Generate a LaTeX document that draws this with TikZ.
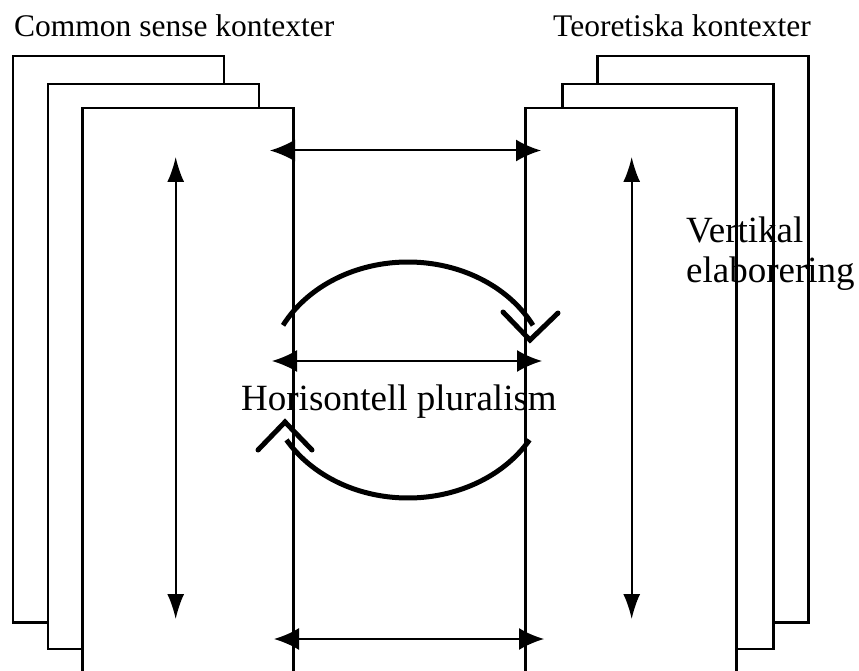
\documentclass[tikz,border=0pt]{standalone}
\usepackage{fontspec}
\setmainfont{Liberation Serif}
\usetikzlibrary{arrows.meta}
\tikzset{
  page/.style={draw=black, fill=white, line width=2.5pt, rectangle, inner sep=0pt, anchor=north west},
  harrow/.style={line width=2pt, {Latex[length=25pt,width=22pt]}-{Latex[length=25pt,width=22pt]}},
  varrow/.style={line width=2pt, {Latex[length=25pt,width=17pt]}-{Latex[length=25pt,width=17pt]}},
  cyclearc/.style={line width=5pt, line cap=butt},
  barb/.style={line width=5pt, line cap=round, line join=miter},
  lbl/.style={inner sep=0pt, anchor=base west, font=\fontsize{31.5}{36}\selectfont},
  biglbl/.style={inner sep=0pt, anchor=base west, align=left, font=\fontsize{37}{40}\selectfont}
}
\begin{document}
\begin{tikzpicture}[x=1pt,y=-1pt]
\clip (0,0) rectangle (859,671);
\fill[white] (0,0) rectangle (859,671);
% left stack
\node[page, minimum width=211pt, minimum height=566pt] (L3) at (11.7,55) {};
\node[page, minimum width=211pt, minimum height=565pt] (L2) at (46.7,82.7) {};
\node[page, minimum width=211pt, minimum height=620pt] (L1) at (81,106.7) {};
% right stack
\node[page, minimum width=211pt, minimum height=566pt] (R3) at (596,55) {};
\node[page, minimum width=211pt, minimum height=565pt] (R2) at (561,82.7) {};
\node[page, minimum width=211pt, minimum height=620pt] (R1) at (524,106.7) {};
% labels
\node[lbl] (tl) at (14,37) {Common sense kontexter};
\node[lbl] (tr) at (553,37) {Teoretiska kontexter};
\node[biglbl] (ve) at (686,282) {Vertikal\\elaborering};
\node[biglbl] (hp) at (241,410) {Horisontell pluralism};
% horizontal arrows
\coordinate (h1a) at (270,150.5);  \coordinate (h1b) at (541,150.5);
\coordinate (h2a) at (272,361);    \coordinate (h2b) at (542,361);
\coordinate (h3a) at (274,639);    \coordinate (h3b) at (544,639);
\draw[harrow] (h1a) -- (h1b);
\draw[harrow] (h2a) -- (h2b);
\draw[harrow] (h3a) -- (h3b);
% vertical arrows
\coordinate (v1a) at (175.7,157); \coordinate (v1b) at (175.7,619);
\coordinate (v2a) at (631.7,157); \coordinate (v2b) at (631.7,619);
\draw[varrow] (v1a) -- (v1b);
\draw[varrow] (v2a) -- (v2b);
% cycle arcs
\draw[cyclearc] plot[domain=152.4:27.6, samples=80, smooth] ({408+141*cos(\x)}, {380-118*sin(\x)});
\draw[barb] (503,312) -- (530,340) -- (558,313);
\draw[cyclearc] plot[domain=-30.5:-149.5, samples=80, smooth] ({408+141*cos(\x)}, {380-118*sin(\x)});
\draw[barb] (258,450) -- (285,422) -- (312,450);
\end{tikzpicture}
\end{document}
